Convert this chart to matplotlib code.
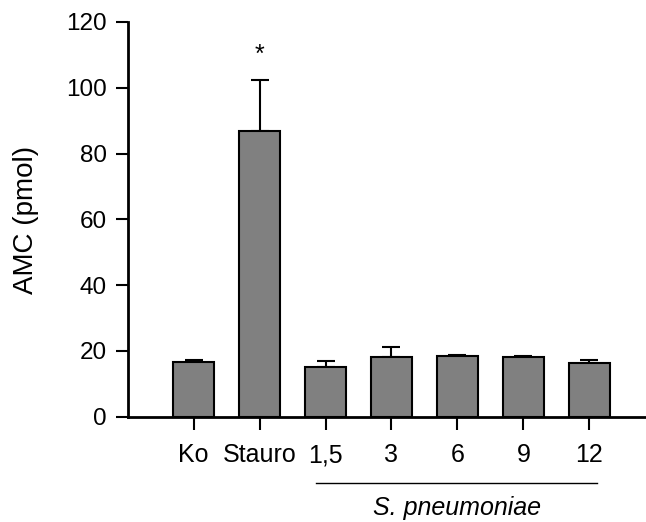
import matplotlib
matplotlib.use("Agg")
import matplotlib.pyplot as plt
import matplotlib.transforms as mtransforms

categories = ["Ko", "Stauro", "1,5", "3", "6", "9", "12"]
values = [16.5, 86.9, 15.0, 18.0, 18.4, 18.0, 16.3]
errors = [0.6, 15.5, 1.8, 3.1, 0.5, 0.6, 0.8]
yticks = [0, 20, 40, 60, 80, 100, 120]

plt.rcParams['font.family'] = ['Liberation Sans', 'DejaVu Sans']

W, H = 646, 522
fig = plt.figure(figsize=(W / 100, H / 100), dpi=100)
ax_left, ax_right = 127.7 / W, 1.0
ax_bottom, ax_top = 1 - 416.7 / H, 1 - 22 / H
ax = fig.add_axes([ax_left, ax_bottom, ax_right - ax_left, ax_top - ax_bottom])

x = list(range(len(categories)))
ax.bar(x, values, width=0.62, color='#808080', edgecolor='black', linewidth=1.5, zorder=2)
ax.errorbar(x, values, yerr=[[0] * len(errors), errors], fmt='none', ecolor='black',
            elinewidth=1.5, capsize=6.5, capthick=1.5, zorder=1)

ax.set_xlim(-1.0, 6.86)
ax.set_ylim(0, 120)
ax.set_yticks(yticks)
ax.set_xticks(x)
ax.set_xticklabels(categories)
ax.tick_params(axis='both', labelsize=17.5, width=1.5, length=9, direction='out', colors='black')
ax.tick_params(axis='x', pad=10, labelsize=18)
ax.tick_params(axis='y', pad=6)

for s in ['top', 'right']:
    ax.spines[s].set_visible(False)
for s in ['left', 'bottom']:
    ax.spines[s].set_linewidth(2)

fig.text(26 / W, 1 - 220 / H, "AMC (pmol)", rotation=90, ha='center', va='center', fontsize=20)

# significance asterisk
ax.text(1, 110, "*", ha='center', va='center', fontsize=18)

# group line and label
trans = mtransforms.blended_transform_factory(ax.transData, ax.transAxes)
ly = (416.7 - 482.7) / (416.7 - 22)
ax.plot([1.85, 6.12], [ly, ly], color='black', linewidth=1.0, transform=trans, clip_on=False)
ty = (416.7 - 507.5) / (416.7 - 22)
ax.text(4.0, ty, "S. pneumoniae", style='italic', ha='center', va='center', fontsize=18,
        transform=trans)

fig.savefig("out.png", dpi=100)
